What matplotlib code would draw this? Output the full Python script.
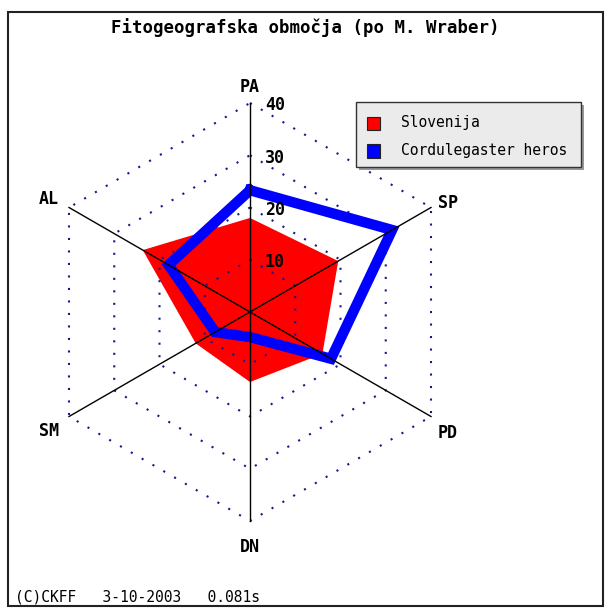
import numpy as np
import matplotlib.pyplot as plt
from matplotlib.patches import Rectangle, Polygon

# axes of the radar, clockwise from the top
categories = ['PA', 'SP', 'PD', 'DN', 'SM', 'AL']
series_names = ['Slovenija', 'Cordulegaster heros']
slovenija = [18, 19.5, 16, 13.4, 12, 23.7]
cordulegaster = [23.3, 31.4, 17.9, 4.8, 7.7, 18]
grid_levels = [10, 20, 30, 40]

title = 'Fitogeografska območja (po M. Wraber)'
footer = '(C)CKFF   3-10-2003   0.081s'

W, H = 605, 608
cx, cy = 250, 312          # centre of the radar in pixels
px_per_unit = 209 / 40.0

fig = plt.figure(figsize=(W / 100, H / 100), dpi=100)
ax = fig.add_axes([0, 0, 1, 1])
ax.set_xlim(-cx / px_per_unit, (W - cx) / px_per_unit)
ax.set_ylim(-(H - cy) / px_per_unit, cy / px_per_unit)
ax.axis('off')

angles = np.deg2rad(np.arange(len(categories)) * 60.0)


def to_xy(values):
    v = np.asarray(values, dtype=float)
    return np.column_stack([v * np.sin(angles), v * np.cos(angles)])


mono = 'DejaVu Sans Mono'

# grid hexagons
for lev in grid_levels:
    pts = to_xy([lev] * len(categories))
    pts = np.vstack([pts, pts[:1]])
    ax.plot(pts[:, 0], pts[:, 1], color='#18188c', lw=1.5,
            linestyle=(0, (1, 5)), zorder=3)

# Slovenija filled area
ax.add_patch(Polygon(to_xy(slovenija), closed=True, facecolor='#ff0000',
                     edgecolor='none', zorder=2))

# Cordulegaster heros outline
pts = to_xy(cordulegaster)
pts = np.vstack([pts, pts[:1]])
ax.plot(pts[:, 0], pts[:, 1], color='#0000ff', lw=7.5,
        solid_joinstyle='miter', zorder=4)

# spokes
top = max(grid_levels)
for a in angles:
    ax.plot([0, top * np.sin(a)], [0, top * np.cos(a)], color='black',
            lw=1.0, zorder=5)

# scale labels along the PA axis
for lev in grid_levels:
    ax.text(15 / px_per_unit, lev - 2.5 / px_per_unit, str(lev), fontfamily=mono,
            fontweight='bold', fontsize=12, ha='left', va='center', zorder=6)

# axis labels (pixel offsets from each outer vertex)
label_offsets = [(0, 16, 'center'), (7, 5, 'left'), (7, -17, 'left'),
                 (0, -26, 'center'), (-10, -14, 'right'), (-10, 9, 'right')]
outer = to_xy([top] * len(categories))
for (x, y), cat, (dx, dy, ha) in zip(outer, categories, label_offsets):
    ax.text(x + dx / px_per_unit, y + dy / px_per_unit, cat, fontfamily=mono,
            fontweight='bold', fontsize=12, ha=ha, va='center', zorder=6)


def fx(p):
    return p / W


def fy(p):
    return 1 - p / H


# outer frame
fig.patches.append(Rectangle((fx(8), fy(606)), fx(603) - fx(8), fy(12) - fy(606),
                             transform=fig.transFigure, fill=False,
                             edgecolor='#222222', lw=1.5))

fig.text(0.5 * (fx(8) + fx(603)), fy(28), title, fontfamily=mono,
         fontweight='bold', fontsize=12.5, ha='center', va='center')
fig.text(fx(15), fy(597), footer, fontfamily=mono, fontsize=10.5,
         ha='left', va='center')

# legend box with shadow
lx0, ly0, lx1, ly1 = 356, 102, 581, 167
fig.patches.append(Rectangle((fx(lx0 + 3), fy(ly1 + 3)), fx(lx1) - fx(lx0),
                             fy(ly0) - fy(ly1), transform=fig.transFigure,
                             facecolor='#999999', edgecolor='none', zorder=7))
fig.patches.append(Rectangle((fx(lx0), fy(ly1)), fx(lx1) - fx(lx0),
                             fy(ly0) - fy(ly1), transform=fig.transFigure,
                             facecolor='#ebebeb', edgecolor='#333333', lw=1.0,
                             zorder=8))
for name, col, yc in zip(series_names, ['#ff0000', '#0000ff'], [123, 151]):
    fig.patches.append(Rectangle((fx(367), fy(yc + 6.5)), fx(13), 13 / H,
                                 transform=fig.transFigure, facecolor=col,
                                 edgecolor='#222222', lw=0.8, zorder=9))
    fig.text(fx(401), fy(yc), name, fontfamily=mono, fontsize=10.5,
             ha='left', va='center', zorder=10)

fig.savefig('out.png', dpi=100)
